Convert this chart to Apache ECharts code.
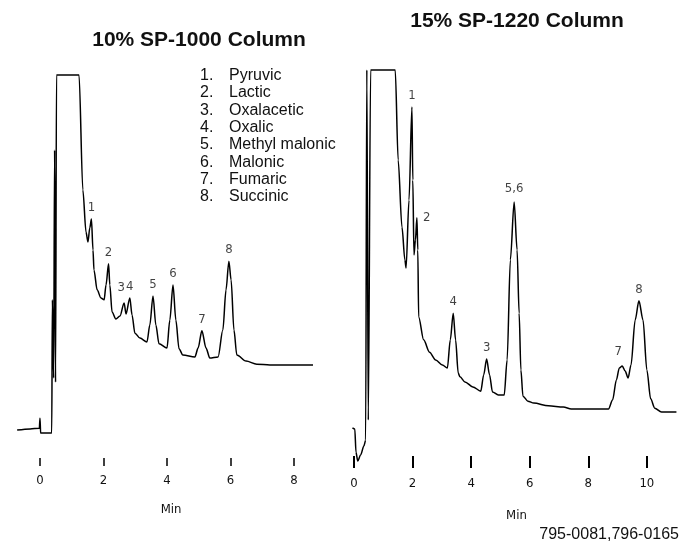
<!DOCTYPE html>
<html>
<head>
<meta charset="utf-8">
<script src="https://cdn.jsdelivr.net/npm/echarts@6/dist/echarts.min.js"></script>
<style>
html, body { margin: 0; padding: 0; background: #fff; }
#main { width: 682px; height: 542px; }
</style>
</head>
<body>
<div id="main"></div>
<script>
// left trace: 10% SP-1000 (time in min, detector signal in % of full scale)
var leftTime = [-0.72,-0.31,-0.02,0,0.02,0.37,0.39,0.43,0.46,0.49,0.52,1.23,1.35,1.45,1.51,1.57,1.62,1.67,1.70,1.80,1.92,2.02,2.08,2.16,2.20,2.27,2.39,2.52,2.65,2.71,2.83,2.90,2.99,3.15,3.37,3.46,3.56,3.65,3.75,4.0,4.09,4.19,4.28,4.38,4.50,4.88,4.98,5.10,5.23,5.35,5.61,5.76,5.86,5.95,6.02,6.11,6.20,6.49,6.83,7.24,8.60];
var leftSignal = [7.3,7.6,7.8,10.4,6.5,6.5,41.3,20.9,80.4,19.8,100,100,70.0,59.0,56.4,60.1,62.4,54.3,49.1,43.9,41.8,41.3,45.2,50.7,45.2,38.1,36.3,37.1,40.5,37.6,41.8,37.3,32.6,31.3,30.3,34.7,42.3,34.7,29.8,28.7,36.0,45.2,36.0,28.5,26.9,26.4,28.7,33.2,28.7,26.1,26.4,33.4,43.9,51.4,46.5,33.4,26.9,25.3,24.5,24.3,24.3];

// right trace: 15% SP-1220
var rightTime = [-0.05,0.03,0.07,0.13,0.23,0.34,0.40,0.44,0.49,0.57,1.41,1.51,1.64,1.74,1.78,1.88,1.98,2.01,2.05,2.10,2.15,2.18,2.21,2.38,2.58,2.79,3.02,3.19,3.29,3.39,3.47,3.56,3.62,3.79,4.06,4.33,4.43,4.53,4.63,4.73,4.93,5.13,5.23,5.34,5.47,5.57,5.64,5.70,5.77,5.94,6.14,6.64,7.15,7.42,7.75,8.69,8.83,8.96,9.06,9.16,9.26,9.36,9.46,9.60,9.73,9.87,10.0,10.13,10.27,10.50,11.01];
var rightSignal = [7.3,7.0,1.0,-1.3,0.3,2.6,4.1,100,9.3,100,100,76.7,59.3,50.8,48.7,66.3,90.4,71.5,52.1,56.0,61.7,53.4,36.0,30.1,26.9,24.9,23.6,22.8,30.1,37.0,30.1,21.5,20.5,19.2,17.9,16.8,21.0,25.1,21.0,16.6,15.8,15.8,24.9,50.8,65.8,53.4,37.0,22.3,15.5,14.2,13.7,13.0,12.7,12.2,12.2,12.2,14.5,19.7,22.8,23.3,22.0,20.2,23.6,35.2,40.2,35.2,22.3,14.8,12.4,11.4,11.4];

// peak numbers
var leftPeakIds = ['1','2','3','4','5','6','7','8'];
var leftPeakTimes = [1.62,2.16,2.65,2.83,3.56,4.19,5.10,5.95];
var leftPeakHeights = [62.4,50.7,40.5,41.8,42.3,45.2,33.2,51.4];
var rightPeakIds = ['1','2','4','3','5,6','7','8'];
var rightPeakTimes = [1.98,2.15,3.39,4.53,5.47,9.16,9.73];
var rightPeakHeights = [90.4,61.7,37.0,25.1,65.8,23.3,40.2];

var leftTicks = [0,2,4,6,8];
var rightTicks = [0,2,4,6,8,10];

var compoundNos = ['1.','2.','3.','4.','5.','6.','7.','8.'];
var compoundNames = ['Pyruvic','Lactic','Oxalacetic','Oxalic','Methyl malonic','Malonic','Fumaric','Succinic'];

var narrow = '"Liberation Sans Narrow", "DejaVu Sans Condensed", sans-serif';
var arial = '"Liberation Sans", Arial, sans-serif';

function pairs(xs, ys) {
	var out = [];
	for (var i = 0; i < xs.length; i++) out.push([xs[i], ys[i]]);
	return out;
}

function peakData(ids, ts, hs, special) {
	var out = [];
	for (var i = 0; i < ids.length; i++) {
		var item = { name: ids[i], value: [ts[i], hs[i]] };
		if (special[ids[i]]) item.label = special[ids[i]];
		out.push(item);
	}
	return out;
}

function xAxisOpt(idx, min, max, ticks, tickLen, tickW, margin, gap) {
	return {
		type: 'value', gridIndex: idx, min: min, max: max,
		axisLine: { show: false },
		splitLine: { show: false },
		axisTick: { show: true, length: tickLen, customValues: ticks, lineStyle: { color: '#000', width: tickW } },
		axisLabel: { customValues: ticks, margin: margin, color: '#111', fontSize: 13, fontFamily: narrow },
		name: 'Min', nameLocation: 'middle', nameGap: gap,
		nameTextStyle: { color: '#111', fontSize: 13, fontFamily: narrow }
	};
}

var chart = echarts.init(document.getElementById('main'));
chart.setOption({
	backgroundColor: '#fff',
	animation: false,
	title: [
		{ text: '10% SP-1000 Column', left: 194, top: 25, textAlign: 'center',
			textStyle: { fontSize: 21, fontWeight: 'bold', color: '#111', fontFamily: arial } },
		{ text: '15% SP-1220 Column', left: 512, top: 6, textAlign: 'center',
			textStyle: { fontSize: 21, fontWeight: 'bold', color: '#111', fontFamily: arial } }
	],
	grid: [
		{ left: 14.6, top: 75, width: 313, bottom: 84 },
		{ left: 351, top: 70, width: 336.7, bottom: 86 }
	],
	xAxis: [
		xAxisOpt(0, -0.8, 9.06, leftTicks, 8, 1.5, 16, 45),
		xAxisOpt(1, -0.1, 11.2, rightTicks, 12, 2, 21, 53)
	],
	yAxis: [
		{ type: 'value', gridIndex: 0, min: 0, max: 100, show: false },
		{ type: 'value', gridIndex: 1, min: 0, max: 100, show: false }
	],
	graphic: [
		{ type: 'text', left: 200, top: 67, style: { text: compoundNos.join('\n'), fontSize: 16, lineHeight: 17.3, fill: '#111', fontFamily: arial } },
		{ type: 'text', left: 229, top: 67, style: { text: compoundNames.join('\n'), fontSize: 16, lineHeight: 17.3, fill: '#111', fontFamily: arial } },
		{ type: 'text', right: 3, top: 527, style: { text: '795-0081,796-0165', fontSize: 16, fill: '#111', fontFamily: arial } }
	],
	series: [
		{ type: 'line', xAxisIndex: 0, yAxisIndex: 0, data: pairs(leftTime, leftSignal), showSymbol: false, clip: false,
			smooth: 0.3, smoothMonotone: 'x', lineStyle: { color: '#000', width: 1.5 } },
		{ type: 'line', xAxisIndex: 1, yAxisIndex: 1, data: pairs(rightTime, rightSignal), showSymbol: false, clip: false,
			smooth: 0.3, smoothMonotone: 'x', lineStyle: { color: '#000', width: 1.5 } },
		{ type: 'scatter', xAxisIndex: 0, yAxisIndex: 0, symbolSize: 0, silent: true,
			data: peakData(leftPeakIds, leftPeakTimes, leftPeakHeights, { '3': { offset: [-3, -4] } }),
			label: { show: true, position: 'top', distance: 5, formatter: '{b}', color: '#111', fontSize: 13, fontFamily: narrow } },
		{ type: 'scatter', xAxisIndex: 1, yAxisIndex: 1, symbolSize: 0, silent: true,
			data: peakData(rightPeakIds, rightPeakTimes, rightPeakHeights, {
				'2': { position: 'right', distance: 6, offset: [0, 0] },
				'7': { offset: [-4, -3] },
				'5,6': { offset: [0, -2] }
			}),
			label: { show: true, position: 'top', distance: 5, formatter: '{b}', color: '#111', fontSize: 13, fontFamily: narrow } }
	]
});
</script>
</body>
</html>
